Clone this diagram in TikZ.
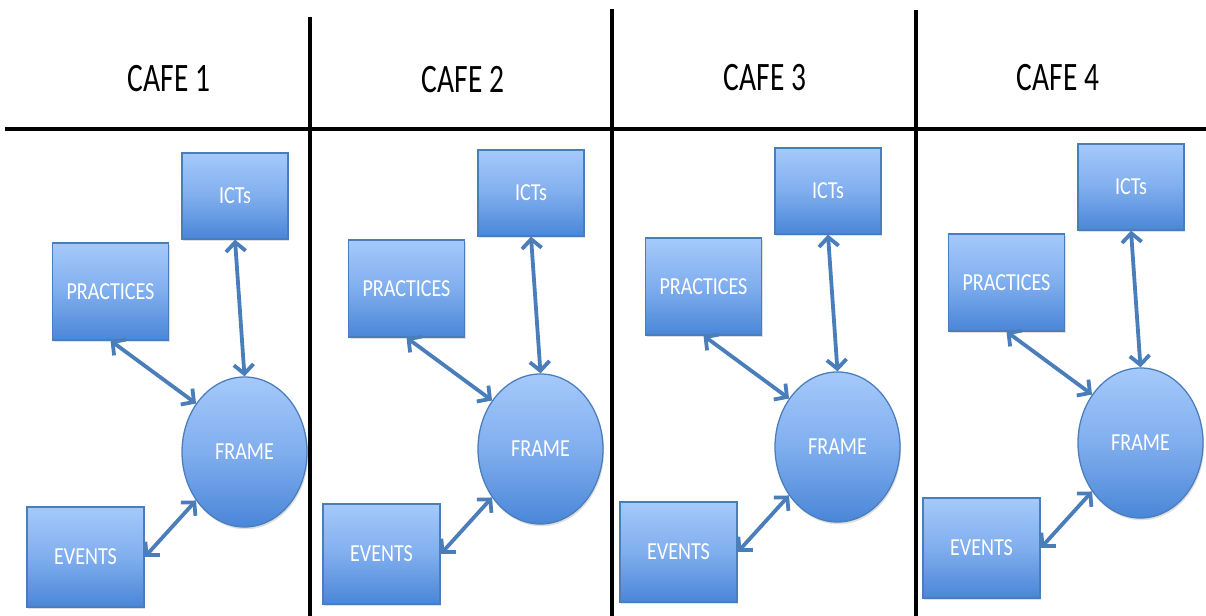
\documentclass[tikz,border=0pt]{standalone}
\usepackage{fontspec}
\setmainfont{Carlito}[FakeStretch=0.82]
\newfontfamily\headfont{Carlito}[FakeStretch=0.73]
\usetikzlibrary{shapes.geometric,arrows.meta,shadows}
\definecolor{boxtop}{HTML}{A5C9FB}
\definecolor{boxmid}{HTML}{80AEEE}
\definecolor{boxbot}{HTML}{4A86D8}
\definecolor{boxline}{HTML}{4A7EBB}
\definecolor{linkblue}{HTML}{4A7EBB}

\begin{document}
\begin{tikzpicture}[x=0.025cm, y=-0.025cm,
    head/.style={font=\headfont\fontsize{28.7}{30}\selectfont},
    cafebox/.style={rectangle, draw=boxline, line width=0.9pt, inner sep=0pt,
      top color=boxtop, bottom color=boxbot, middle color=boxmid,
      text=white, font=\fontsize{17.4}{18}\selectfont,
      drop shadow={opacity=0.25, shadow xshift=0.8pt, shadow yshift=-1.6pt}},
    ictbox/.style={cafebox, minimum width=2.65cm, minimum height=2.15cm},
    pracbox/.style={cafebox, minimum width=2.9cm, minimum height=2.42cm},
    evbox/.style={cafebox, minimum width=2.93cm, minimum height=2.5cm},
    framebox/.style={cafebox, ellipse, minimum width=3.125cm, minimum height=3.75cm},
    link/.style={draw=linkblue, line width=2.7pt,
      {Straight Barb[length=6.5pt,width=14pt]}-{Straight Barb[length=6.5pt,width=14pt]}},
    rule/.style={line width=2.5pt}]
  \useasboundingbox (0,0) rectangle (1206,616);
  % table lines
  \draw[rule] (5,129) -- (1206,129);
  \draw[rule] (310,17) -- (310,616);
  \draw[rule] (612,9) -- (612,616);
  \draw[rule] (916,10) -- (916,616);
  % headings
  \node[head] (t1) at (169,79) {CAFE 1};
  \node[head] (t2) at (463,80) {CAFE 2};
  \node[head] (t3) at (765,78) {CAFE 3};
  \node[head] (t4) at (1058,78) {CAFE 4};
  \begin{scope}
    \node[ictbox] (ict1) at (235,196) {ICTs};
    \node[pracbox] (prac1) at (110.5,291.5) {PRACTICES};
    \node[framebox] (frame1) at (244.5,452) {FRAME};
    \node[evbox] (ev1) at (85.5,557) {EVENTS};
    \draw[link] (ict1.south) -- (frame1.north);
    \draw[link] (prac1.south) -- (frame1.135);
    \draw[link] (ev1.east) -- (frame1.225);
  \end{scope}
  \begin{scope}[shift={(296,-3)}]
    \node[ictbox] (ict2) at (235,196) {ICTs};
    \node[pracbox] (prac2) at (110.5,291.5) {PRACTICES};
    \node[framebox] (frame2) at (244.5,452) {FRAME};
    \node[evbox] (ev2) at (85.5,557) {EVENTS};
    \draw[link] (ict2.south) -- (frame2.north);
    \draw[link] (prac2.south) -- (frame2.135);
    \draw[link] (ev2.east) -- (frame2.225);
  \end{scope}
  \begin{scope}[shift={(593,-5)}]
    \node[ictbox] (ict3) at (235,196) {ICTs};
    \node[pracbox] (prac3) at (110.5,291.5) {PRACTICES};
    \node[framebox] (frame3) at (244.5,452) {FRAME};
    \node[evbox] (ev3) at (85.5,557) {EVENTS};
    \draw[link] (ict3.south) -- (frame3.north);
    \draw[link] (prac3.south) -- (frame3.135);
    \draw[link] (ev3.east) -- (frame3.225);
  \end{scope}
  \begin{scope}[shift={(896,-9)}]
    \node[ictbox] (ict4) at (235,196) {ICTs};
    \node[pracbox] (prac4) at (110.5,291.5) {PRACTICES};
    \node[framebox] (frame4) at (244.5,452) {FRAME};
    \node[evbox] (ev4) at (85.5,557) {EVENTS};
    \draw[link] (ict4.south) -- (frame4.north);
    \draw[link] (prac4.south) -- (frame4.135);
    \draw[link] (ev4.east) -- (frame4.225);
  \end{scope}
\end{tikzpicture}
\end{document}
